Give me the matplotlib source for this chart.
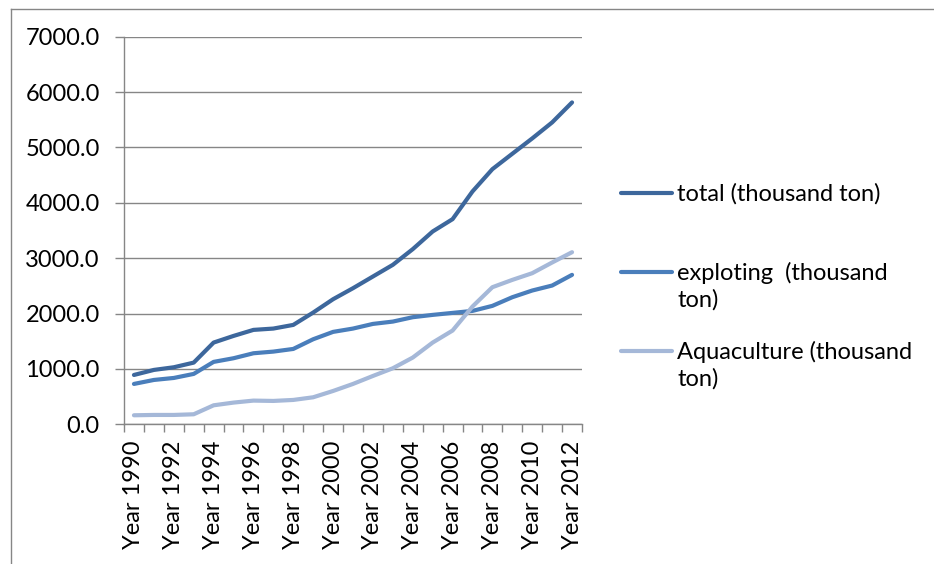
import matplotlib
matplotlib.use("Agg")
import matplotlib.pyplot as plt
from matplotlib.lines import Line2D
import numpy as np

years = list(range(1990, 2013))
tick_labels = [f"Year {y}" for y in years]

total = [891, 982, 1030, 1114, 1476, 1596, 1705, 1729, 1795, 2018, 2259, 2458,
         2669, 2880, 3163, 3482, 3705, 4205, 4608, 4886, 5163, 5452, 5813]
exploting = [729, 801, 837, 910, 1127, 1193, 1283, 1313, 1361, 1536, 1669, 1729,
             1813, 1855, 1934, 1976, 2012, 2048, 2139, 2295, 2416, 2506, 2699]
aquaculture = [163, 169, 169, 181, 343, 392, 428, 422, 440, 488, 602, 729,
               873, 1012, 1205, 1476, 1693, 2127, 2476, 2608, 2729, 2922, 3108]

series_names = ["total (thousand ton)", "exploting  (thousand\nton)",
                "Aquaculture (thousand\nton)"]
series_values = [total, exploting, aquaculture]
series_colors = ["#3D679C", "#4A7EBB", "#A5B8D8"]

plt.rcParams["font.family"] = ["Lato", "DejaVu Sans"]
FS = 17
GRAY = "#868686"

W, H = 934, 564
fig = plt.figure(figsize=(W / 100, H / 100), dpi=100)
ax = fig.add_axes([124 / W, 1 - 424.3 / H, (582 - 124) / W, (424.3 - 36.7) / H])

x = np.arange(len(years))
for vals, col in zip(series_values, series_colors):
    ax.plot(x, vals, color=col, lw=3.0, solid_capstyle="round",
            solid_joinstyle="round", zorder=3)

ax.set_xlim(-0.5, len(years) - 0.5)
ax.set_ylim(0, 7000)
ax.set_yticks(np.arange(0, 7001, 1000))
ax.set_yticklabels([f"{v:.1f}" for v in np.arange(0, 7001, 1000)], fontsize=FS)
ax.yaxis.grid(True, color=GRAY, lw=1.0)
ax.set_axisbelow(True)

ax.set_xticks(x[::2])
ax.set_xticklabels(tick_labels[::2], rotation=90, fontsize=FS)
ax.set_xticks(np.arange(-0.5, len(years)), minor=True)
ax.tick_params(axis="x", which="major", length=0, pad=12)
ax.tick_params(axis="x", which="minor", length=6, width=1.0, color=GRAY)
ax.tick_params(axis="y", length=6.5, width=1.0, color=GRAY, pad=11)

for s in ["top", "right"]:
    ax.spines[s].set_visible(False)
for s in ["left", "bottom"]:
    ax.spines[s].set_color(GRAY)
    ax.spines[s].set_linewidth(1.0)

# Chart area frame (left and top edges)
def px(xp, yp):
    return xp / W, 1 - yp / H

fig.add_artist(Line2D(*zip(px(10.5, 8.5), px(10.5, H)), color=GRAY, lw=1.0))
fig.add_artist(Line2D(*zip(px(10.5, 8.5), px(W, 8.5)), color=GRAY, lw=1.0))

# Legend
legend_y = [193, 272, 351]
for name, col, ly in zip(series_names, series_colors, legend_y):
    fig.add_artist(Line2D(*zip(px(621, ly), px(672, ly)), color=col, lw=3.0,
                          solid_capstyle="round"))
    fig.text(677 / W, 1 - (ly - 10) / H, name, fontsize=FS, va="top",
             ha="left", linespacing=1.3)

fig.savefig("out.png", dpi=100)
